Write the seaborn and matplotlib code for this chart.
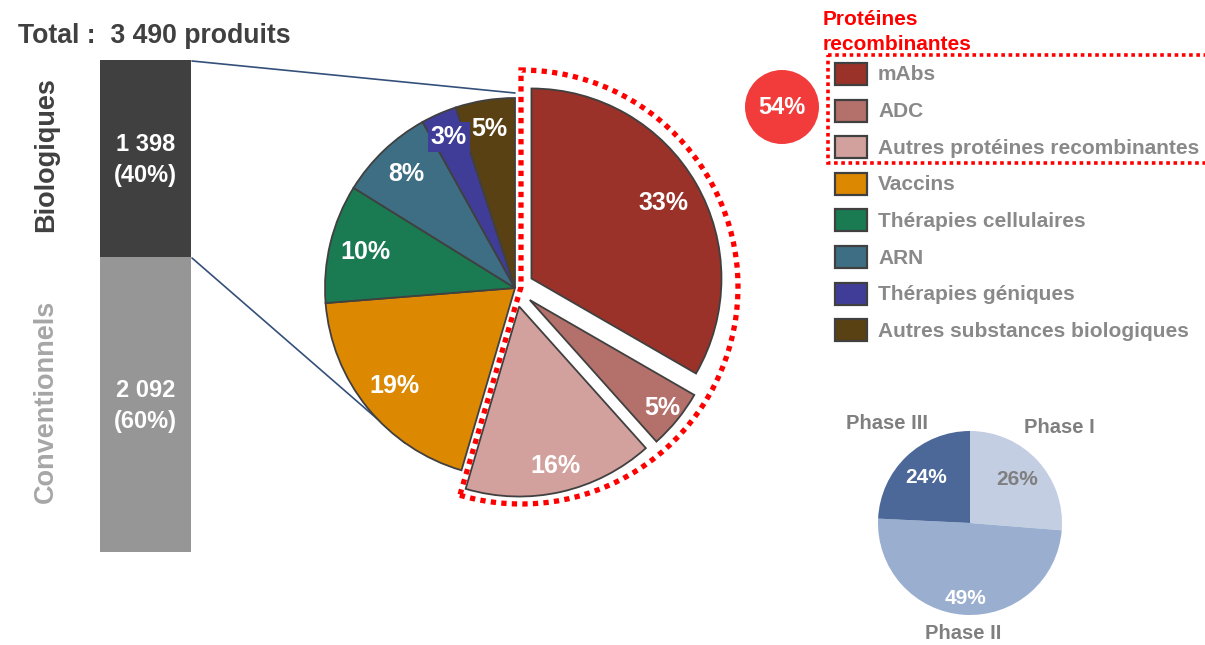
import matplotlib
matplotlib.use("Agg")
import matplotlib.pyplot as plt
import matplotlib.transforms as mtransforms
from matplotlib.patches import Rectangle, Circle, Wedge
import numpy as np
import seaborn as sns

# ---------------- data ----------------
total_title = "Total :  3 490 produits"
groups = ["Biologiques", "Conventionnels"]
group_counts = [1398, 2092]

bio_categories = ["mAbs", "ADC", "Autres protéines recombinantes", "Vaccins",
                  "Thérapies cellulaires", "ARN", "Thérapies géniques",
                  "Autres substances biologiques"]
bio_shares = [33, 5, 16, 19, 10, 8, 3, 5]
n_recombinant = 3
recombinant_title = ["Protéines", "recombinantes"]
recombinant_share = 54

phases = ["Phase I", "Phase II", "Phase III"]
phase_shares = [26, 49, 24]

# ---------------- styles ----------------
bio_colors = ["#9a3229", "#b4706a", "#d3a19d", "#dc8800", "#1a7a52",
              "#3e6e84", "#403d99", "#5a4114"]
group_colors = ["#404040", "#969696"]
group_label_colors = ["#404040", "#a6a6a6"]
phase_colors = ["#c3cee2", "#9aafd0", "#4b6899"]
phase_pct_colors = ["#7f7f7f", "white", "white"]
legend_text_color = "#898989"
red = "#ff0000"

sns.set_theme(style="white")
plt.rcParams["font.family"] = ["Liberation Sans", "DejaVu Sans"]

W, H = 1205, 645
fig = plt.figure(figsize=(W / 100, H / 100), dpi=100)
fig.patch.set_facecolor("white")


def px_axes(left, top, w, h):
    return fig.add_axes([left / W, (H - top - h) / H, w / W, h / H])


# background axes in pixel coordinates (y downwards)
bg = fig.add_axes([0, 0, 1, 1])
bg.set_xlim(0, W)
bg.set_ylim(H, 0)
bg.axis("off")

# title
bg.text(18, 36, total_title, fontsize=19.2, fontweight="bold", color="#404040",
        ha="left", va="center")

# connector lines (behind the pie)
bg.plot([192, 515], [61, 93], color="#34507a", lw=1.2, zorder=1)
bg.plot([192, 405], [258, 443], color="#34507a", lw=1.2, zorder=1)

# ---------------- stacked bar (seaborn) ----------------
total = sum(group_counts)
axb = px_axes(100, 60, 91, 492)
sns.barplot(x=["Total"], y=[total], color=group_colors[0], width=1,
            saturation=1, linewidth=0, ax=axb)
sns.barplot(x=["Total"], y=[group_counts[1]], color=group_colors[1], width=1,
            saturation=1, linewidth=0, ax=axb)
axb.set_xlim(-0.5, 0.5)
axb.set_ylim(0, total)
axb.axis("off")

seg_mid = [group_counts[1] + group_counts[0] / 2, group_counts[1] / 2]
label_shift = [28, 20]
blend = mtransforms.blended_transform_factory(axb.transAxes, axb.transData)
for i, g in enumerate(groups):
    pct = round(group_counts[i] / total * 100)
    txt = f"{group_counts[i]:,}".replace(",", " ") + f"\n({pct}%)"
    axb.text(0, seg_mid[i] - 10, txt, ha="center", va="center", color="white",
             fontsize=17, fontweight="bold", linespacing=1.45)
    axb.text(-0.59, seg_mid[i] + label_shift[i], g, transform=blend,
             rotation=90, ha="center", va="center", fontsize=19.5,
             fontweight="bold", color=group_label_colors[i])

# ---------------- main pie ----------------
R = 190.0
pax = px_axes(515 - 250, 288 - 250, 500, 500)
explode = [0.1 if i < n_recombinant else 0 for i in range(len(bio_shares))]
wedges, _ = pax.pie(bio_shares, colors=bio_colors, startangle=90,
                    counterclock=False, explode=explode, radius=1,
                    wedgeprops=dict(edgecolor="#404040", linewidth=1.3),
                    frame=True)
L = 250 / R
pax.set_xlim(-L, L)
pax.set_ylim(-L, L)
pax.axis("off")

label_r = [0.80, 0.90, 0.86, 0.82, 0.81, 0.83, 0.87, 0.85]
for i, w in enumerate(wedges):
    th = np.deg2rad((w.theta1 + w.theta2) / 2)
    cx, cy = w.center
    x = cx + label_r[i] * np.cos(th)
    y = cy + label_r[i] * np.sin(th)
    kw = {}
    if bio_shares[i] <= 3:
        kw["bbox"] = dict(boxstyle="square,pad=0.12", fc=bio_colors[i], ec="none")
    pax.text(x, y, f"{bio_shares[i]}%", ha="center", va="center",
             color="white", fontsize=18, fontweight="bold", **kw)

# dotted outline around recombinant proteins
theta_end = 90 - sum(bio_shares[:n_recombinant]) / sum(bio_shares) * 360
outline = Wedge((6 / R, 1 / R), 217 / R, theta_end, 90, fill=False,
                ec=red, lw=3.8, linestyle=(0, (1, 1)), clip_on=False,
                capstyle="butt", zorder=5)
pax.add_patch(outline)

# ---------------- legend ----------------
for k, line in enumerate(recombinant_title):
    bg.text(823, 25 + k * 25, line, color=red, fontsize=15, fontweight="bold",
            ha="left", va="baseline")
row_y0, row_dy = 74, 36.6
for i, cat in enumerate(bio_categories):
    yy = row_y0 + i * row_dy
    bg.add_patch(Rectangle((835, yy - 11), 32, 22, fc=bio_colors[i],
                           ec="#404040", lw=1.6, zorder=3))
    bg.text(878, yy + 1, cat, color=legend_text_color, fontsize=15,
            fontweight="bold", ha="left", va="center")
bg.add_patch(Rectangle((828, 55), 400, 108, fill=False, ec=red, lw=2.6,
                       linestyle=(0, (1, 1)), clip_on=False, zorder=4))
bg.add_patch(Circle((782, 107), 37, fc="#f23b3b", ec="none", zorder=3))
bg.text(782, 108, f"{recombinant_share}%", color="white", fontsize=17,
        fontweight="bold", ha="center", va="center", zorder=4)

# ---------------- phase pie ----------------
R2 = 92.0
spax = px_axes(970 - 120, 523 - 120, 240, 240)
pw, _ = spax.pie(phase_shares, colors=phase_colors, startangle=90,
                 counterclock=False, radius=1,
                 wedgeprops=dict(linewidth=0), frame=True)
L2 = 120 / R2
spax.set_xlim(-L2, L2)
spax.set_ylim(-L2, L2)
spax.axis("off")

pct_r = [0.69, 0.82, 0.69]
name_r = [1.42, 1.20, 1.41]
name_dth = [4, 0, -4]
for i, w in enumerate(pw):
    thd = (w.theta1 + w.theta2) / 2
    th = np.deg2rad(thd)
    spax.text(pct_r[i] * np.cos(th), pct_r[i] * np.sin(th), f"{phase_shares[i]}%",
              ha="center", va="center", color=phase_pct_colors[i],
              fontsize=15, fontweight="bold")
    th2 = np.deg2rad(thd + name_dth[i])
    spax.text(name_r[i] * np.cos(th2), name_r[i] * np.sin(th2), phases[i],
              ha="center", va="center", color="#7f7f7f", fontsize=14.5,
              fontweight="bold", clip_on=False)

fig.savefig("out.png", dpi=100, facecolor="white")
